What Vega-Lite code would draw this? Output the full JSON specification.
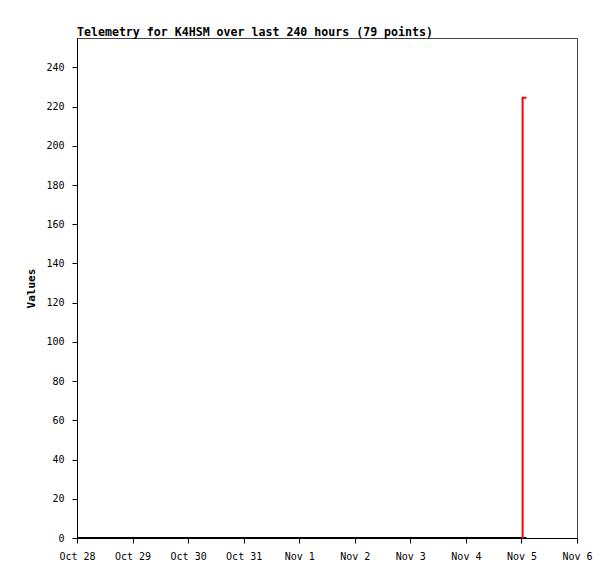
{
  "$schema": "https://vega.github.io/schema/vega-lite/v6.json",
  "width": 500,
  "height": 500,
  "autosize": {"type": "none"},
  "padding": {"left": 77, "top": 38, "right": 38, "bottom": 41},
  "background": "white",
  "title": {
    "text": "Telemetry for K4HSM over last 240 hours (79 points)",
    "anchor": "start",
    "frame": "group",
    "font": "DejaVu Sans Mono",
    "fontSize": 11.6,
    "fontWeight": "bold",
    "color": "black",
    "offset": -1
  },
  "config": {
    "view": {"stroke": "#444", "strokeWidth": 1},
    "axis": {
      "labelFont": "DejaVu Sans Mono",
      "labelFontSize": 10,
      "labelColor": "black",
      "titleFont": "DejaVu Sans Mono",
      "titleFontSize": 11,
      "titleColor": "black",
      "domainColor": "black",
      "tickColor": "black",
      "tickSize": 5,
      "grid": false
    }
  },
  "data": {
    "values": [
      {"t": "2023-10-28T00:00:00Z", "v": 0, "s": "a", "o": 1},
      {"t": "2023-10-30T00:00:00Z", "v": 0, "s": "a", "o": 2},
      {"t": "2023-11-02T00:00:00Z", "v": 0, "s": "a", "o": 3},
      {"t": "2023-11-05T02:10:00Z", "v": 0, "s": "a", "o": 4},
      {"t": "2023-11-05T00:30:00Z", "v": 0, "s": "b", "o": 1},
      {"t": "2023-11-05T00:30:00Z", "v": 224.5, "s": "b", "o": 2},
      {"t": "2023-11-05T02:10:00Z", "v": 224.5, "s": "b", "o": 3}
    ]
  },
  "mark": {"type": "line", "strokeWidth": 2, "clip": true},
  "encoding": {
    "x": {
      "field": "t",
      "type": "temporal",
      "scale": {"type": "utc", "domain": ["2023-10-28T00:00:00Z", "2023-11-06T00:00:00Z"]},
      "axis": {
        "title": null,
        "labelExpr": "utcFormat(datum.value, '%b %-d')",
        "tickCount": {"interval": "day", "step": 1},
        "labelPadding": 8,
        "labelFlush": false,
        "labelOverlap": false
      }
    },
    "y": {
      "field": "v",
      "type": "quantitative",
      "scale": {"domain": [0, 255], "nice": false},
      "axis": {
        "title": "Values",
        "titleFontWeight": "bold",
        "values": [0, 20, 40, 60, 80, 100, 120, 140, 160, 180, 200, 220, 240],
        "labelPadding": 8,
        "titlePadding": 9
      }
    },
    "color": {
      "field": "s",
      "type": "nominal",
      "scale": {"domain": ["a", "b"], "range": ["black", "red"]},
      "legend": null
    },
    "order": {"field": "o", "type": "quantitative"}
  }
}
